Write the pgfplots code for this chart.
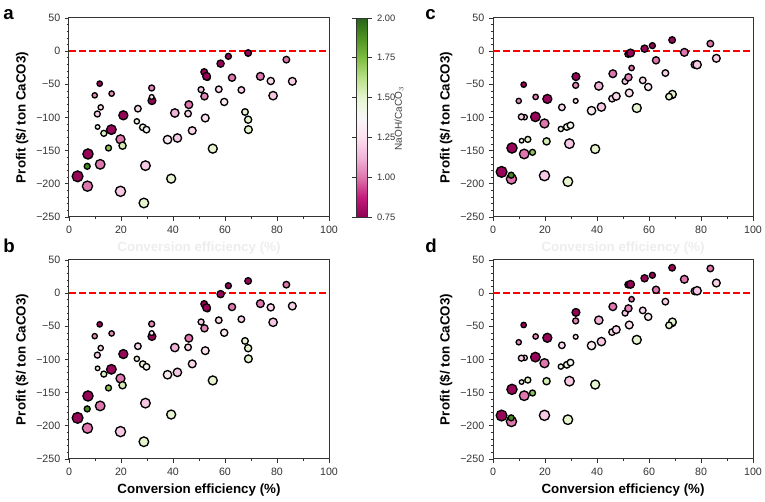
\documentclass[border=0pt]{standalone}
\usepackage{pgfplots}
\pgfplotsset{compat=1.18}
\usepackage{pgfplotstable}
\usepackage{fontspec}
\setmainfont{Liberation Sans}

\pgfplotstableread{
x r s ya yb yc yd
3.3 0.77 4.0 -188.7 -188 -182 -184.5
7.1 1.0 3.75 -203.5 -203.5 -192.7 -193.5
7.0 1.9 2.0 -173.6 -174.5 -187 -188
7.3 0.77 3.75 -155 -155 -146 -145
12.0 1.0 3.5 -170.6 -170 -155 -154.6
11.8 0.77 1.75 -49 -47 -50.5 -48
9.9 1.03 1.7 -66.6 -64.8 -75 -74
12.2 1.22 1.7 -84.7 -82.7 -99.5 -97.5
10.9 1.2 2.0 -94.7 -93.4 -99 -98
11.0 1.4 1.4 -114.3 -113.3 -135 -134
13.4 1.52 2.0 -123.9 -122 -133 -131
16.4 1.03 1.75 -64 -60.7 -69 -65.3
16.3 0.77 3.5 -118.3 -114.8 -99 -96.4
15.2 1.72 2.0 -146 -142.9 -152.5 -150.5
19.8 1.0 3.25 -132.9 -128.6 -109 -105.6
20.6 1.55 2.5 -142.5 -138.8 -136 -132.7
20.9 0.77 3.25 -96.7 -91.8 -72 -67.3
19.8 1.18 3.75 -211.3 -208.7 -187.7 -184.2
26.5 1.22 2.25 -86.7 -80 -84.7 -78.6
26.1 1.45 1.7 -105.8 -99 -117.3 -110.7
28.4 1.47 2.25 -114.8 -107 -114.3 -108
29.8 1.4 2.25 -118.3 -111 -111.8 -104.6
29.4 1.18 3.5 -172.6 -165.8 -139.4 -132.7
28.8 1.5 3.5 -228.9 -224 -196.7 -190.8
31.8 1.03 2.0 -55.5 -46.4 -51.5 -41.8
31.9 0.77 2.75 -74.6 -65.3 -38.4 -29
31.8 1.25 1.5 -69.1 -60.2 -75 -65.8
37.9 1.3 3.0 -133.4 -123 -89.7 -79
39.3 1.5 3.25 -192.2 -183 -147.5 -137.8
40.7 1.12 3.0 -93.2 -82 -52.5 -40.8
41.7 1.18 3.0 -130.9 -119.4 -84.2 -73
46.1 1.0 2.75 -80.7 -67.9 -34 -20.4
45.8 1.22 2.25 -94.2 -81.6 -71.6 -58.7
47.4 1.22 2.75 -119.8 -106.6 -68 -55
50.8 1.18 2.0 -58 -43.4 -45.5 -30
52.0 0.77 2.25 -31.4 -16.3 -4.3 12.8
52.1 1.03 2.5 -68.1 -53 -39.4 -23
52.4 1.25 2.75 -100.8 -86.7 -63 -48
53.3 1.0 1.75 -40 -24 -25.4 -9.2
52.9 0.77 2.75 -37.9 -21.9 -2.8 13.3
55.3 1.5 3.25 -147 -131.6 -85.7 -70.4
57.6 1.22 2.25 -57.5 -40.8 -44 -26
59.7 1.3 2.5 -76.6 -59.7 -54 -35.7
58.3 0.77 2.5 -18.8 -1.5 3.8 22.4
61.3 0.77 2.0 -7.8 11.2 8.3 27
62.7 1.0 2.5 -40 -20.9 -13.8 5.1
66.3 1.2 2.25 -58.5 -39.3 -33 -12.8
68.9 1.5 2.5 -103.3 -83 -66 -45
69.0 1.5 2.75 -118.3 -99 -65 -43.4
67.7 1.5 2.25 -91.7 -72 -68.5 -48.5
68.9 0.77 2.25 -2.8 18.4 16.8 38.3
73.6 1.0 2.75 -38 -15.8 -1.8 20.9
77.6 1.22 2.5 -45 -21.4 -20.4 3
78.5 1.18 3.0 -67.1 -43.9 -20.4 3.6
83.6 1.0 2.25 -12.8 12.8 11.3 37.2
85.9 1.2 2.75 -45.5 -19.4 -10.8 15.3
}\data

\pgfplotsset{
  panel/.style={
    scale only axis, width=195pt, height=149.25pt,
    xmin=0, xmax=100, ymin=-250, ymax=50,
    xtick={0,20,40,60,80,100}, xticklabels={0,20,40,60,80,100},
    ytick={-250,-200,-150,-100,-50,0,50},
    yticklabels={−250,−200,−150,−100,−50,0,50},
    minor x tick num=1, minor y tick num=4,
    tick align=outside, xtick pos=bottom, ytick pos=left,
    major tick length=3pt, minor tick length=1.8pt,
    axis line style={black!80, line width=0.75pt},
    every tick/.style={black!80, line width=0.6pt},
    every minor tick/.style={black!80, line width=0.5pt},
    tick label style={font=\fontsize{8}{9.6}\selectfont, text=black!80},
    xlabel={Conversion efficiency (\%)},
    ylabel={Profit (\$/ ton CaCO3)},
    label style={font=\fontsize{10}{12}\selectfont\bfseries},
    ylabel style={at={(axis description cs:-0.181,0.5)}, anchor=center},
    xlabel style={at={(axis description cs:0.5,-0.156)}, anchor=center},
    colormap={PiYG}{rgb255=(142,1,82) rgb255=(197,27,125) rgb255=(222,119,174) rgb255=(241,182,218) rgb255=(253,224,239) rgb255=(247,247,247) rgb255=(230,245,208) rgb255=(184,225,134) rgb255=(127,188,65) rgb255=(77,146,33) rgb255=(39,100,25)},
    point meta min=0.75, point meta max=2,
  },
  pts/.style={scatter, only marks, mark=*, scatter src=explicit,
    scatter/use mapped color={draw=black, fill=mapped color},
    visualization depends on={\thisrow{s}*0.9+0.45 \as \msize},
    scatter/@pre marker code/.append style={/tikz/mark size=\msize},
    mark options={line width=1pt}},
  zline/.style={red, line width=1.1pt, dash pattern=on 5pt off 2.5pt},
}
\tikzset{plabel/.style={anchor=base west, inner sep=0pt, font=\fontsize{14}{14}\selectfont\bfseries}}

\begin{document}
\begin{tikzpicture}
\path[use as bounding box] (0,0) rectangle (573.75pt,376.5pt);

% panel a
\begin{axis}[panel, at={(51.75pt,213.75pt)}, anchor=south west,
  xlabel style={text=black!7},
  colorbar,
  colorbar style={
    at={(parent axis.north east)}, anchor=north west, xshift=12pt,
    width=8.5pt,
    ytick={0.75,1,1.25,1.5,1.75,2},
    yticklabels={0.75,1.00,1.25,1.50,1.75,2.00},
    tick align=outside, major tick length=3.5pt,
    axis line style={black!80, line width=0.6pt},
    every tick/.style={black!80, line width=0.6pt},
    yticklabel style={font=\fontsize{7}{8.4}\selectfont, text=black!80},
  }]
\addplot[zline] coordinates {(0,0) (100,0)};
\addplot[pts] table[x=x, y=ya, meta=r] {\data};
\end{axis}

\node[rotate=90, font=\fontsize{7.5}{9}\selectfont, text=black!75] at (299.25pt,287.6pt) {NaOH/CaCO$_3$};

% panel b
\begin{axis}[panel, at={(51.75pt,32.25pt)}, anchor=south west]
\addplot[zline] coordinates {(0,0) (100,0)};
\addplot[pts] table[x=x, y=yb, meta=r] {\data};
\end{axis}

% panel c
\begin{axis}[panel, at={(369.75pt,213.75pt)}, anchor=south west, xlabel style={text=black!7}]
\addplot[zline] coordinates {(0,0) (100,0)};
\addplot[pts] table[x=x, y=yc, meta=r] {\data};
\end{axis}

% panel d
\begin{axis}[panel, at={(369.75pt,32.25pt)}, anchor=south west]
\addplot[zline] coordinates {(0,0) (100,0)};
\addplot[pts] table[x=x, y=yd, meta=r] {\data};
\end{axis}

\node[plabel] at (2.25pt,361.5pt) {a};
\node[plabel] at (2.25pt,186.75pt) {b};
\node[plabel] at (318.75pt,361.5pt) {c};
\node[plabel] at (318.75pt,186.75pt) {d};
\end{tikzpicture}
\end{document}
